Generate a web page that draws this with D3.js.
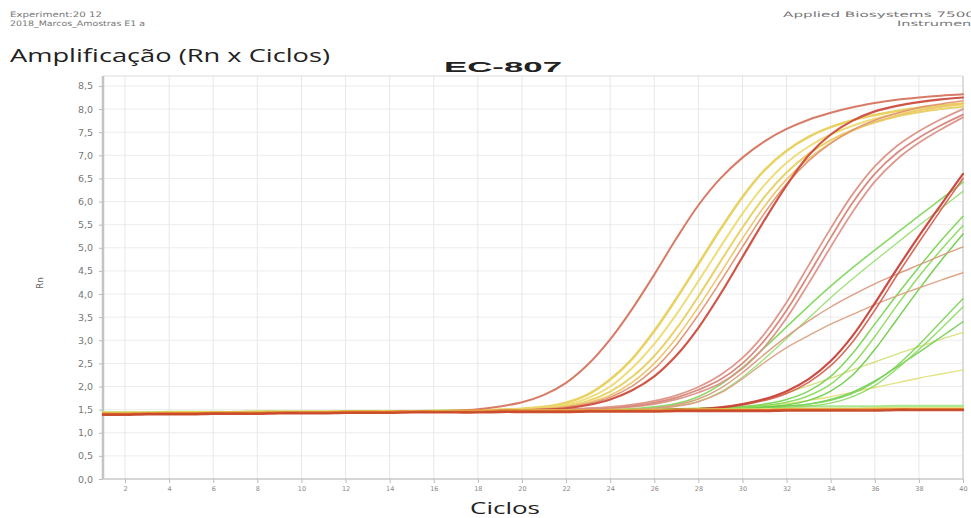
<!DOCTYPE html>
<html>
<head>
<meta charset="utf-8">
<script src="https://cdn.jsdelivr.net/npm/d3@7"></script>
<style>
  html, body { margin: 0; padding: 0; background: #ffffff; }
  svg { display: block; }
</style>
</head>
<body>
<svg id="chart" width="971" height="518"></svg>
<script>
// Amplification plot data: normalized reporter (Rn) per cycle, cycles 1..40
const cycles = [1,2,3,4,5,6,7,8,9,10,11,12,13,14,15,16,17,18,19,20,21,22,23,24,25,26,27,28,29,30,31,32,33,34,35,36,37,38,39,40];
const yTicks = [0,0.5,1,1.5,2,2.5,3,3.5,4,4.5,5,5.5,6,6.5,7,7.5,8,8.5];
const xTicks = [2,4,6,8,10,12,14,16,18,20,22,24,26,28,30,32,34,36,38,40];

// wells that never amplify (baseline)
const flatRed    = [1.39,1.39,1.40,1.40,1.40,1.41,1.41,1.41,1.42,1.42,1.42,1.43,1.43,1.43,1.44,1.44,1.44,1.44,1.45,1.45,1.45,1.45,1.46,1.46,1.46,1.46,1.47,1.47,1.47,1.47,1.47,1.48,1.48,1.48,1.48,1.48,1.49,1.49,1.49,1.49];
const flatOrange = [1.41,1.41,1.42,1.42,1.42,1.43,1.43,1.43,1.44,1.44,1.44,1.45,1.45,1.45,1.46,1.46,1.46,1.46,1.47,1.47,1.47,1.47,1.48,1.48,1.48,1.48,1.49,1.49,1.49,1.49,1.49,1.50,1.50,1.50,1.50,1.50,1.51,1.51,1.51,1.51];
const flatYellow = [1.44,1.44,1.44,1.45,1.45,1.45,1.45,1.46,1.46,1.46,1.46,1.47,1.47,1.47,1.47,1.48,1.48,1.48,1.48,1.49,1.49,1.49,1.49,1.50,1.50,1.50,1.50,1.51,1.51,1.51,1.51,1.52,1.52,1.52,1.52,1.53,1.53,1.53,1.53,1.53];
const flatGreen  = [1.44,1.44,1.44,1.45,1.45,1.45,1.45,1.46,1.46,1.46,1.46,1.47,1.47,1.47,1.47,1.48,1.48,1.48,1.48,1.49,1.49,1.49,1.49,1.50,1.50,1.50,1.51,1.52,1.53,1.54,1.55,1.56,1.57,1.57,1.57,1.57,1.58,1.58,1.58,1.58];

// earliest sample
const wellA  = [1.41,1.41,1.42,1.42,1.42,1.43,1.43,1.43,1.44,1.44,1.44,1.45,1.45,1.45,1.46,1.47,1.48,1.51,1.57,1.66,1.82,2.08,2.48,3.02,3.68,4.42,5.20,5.92,6.50,6.95,7.30,7.57,7.77,7.92,8.04,8.13,8.20,8.25,8.29,8.32];

// second group (yellow / orange / red)
const wellB1 = [1.41,1.41,1.42,1.42,1.42,1.43,1.43,1.43,1.44,1.44,1.44,1.45,1.45,1.45,1.46,1.46,1.47,1.48,1.50,1.52,1.56,1.65,1.83,2.15,2.60,3.20,3.90,4.65,5.40,6.10,6.68,7.10,7.40,7.61,7.76,7.87,7.96,8.03,8.08,8.12];
const wellB2 = [1.41,1.41,1.42,1.42,1.42,1.43,1.43,1.43,1.44,1.44,1.44,1.45,1.45,1.45,1.46,1.46,1.47,1.48,1.49,1.51,1.54,1.61,1.75,2.00,2.40,2.92,3.56,4.28,5.02,5.74,6.36,6.84,7.19,7.45,7.64,7.79,7.90,7.98,8.05,8.10];
const wellB3 = [1.41,1.41,1.42,1.42,1.42,1.43,1.43,1.43,1.44,1.44,1.44,1.45,1.45,1.45,1.46,1.46,1.47,1.47,1.49,1.50,1.53,1.58,1.69,1.89,2.21,2.66,3.25,3.95,4.70,5.44,6.10,6.63,7.03,7.33,7.55,7.71,7.84,7.93,8.00,8.05];
const wellB4 = [1.41,1.41,1.42,1.42,1.42,1.43,1.43,1.43,1.44,1.44,1.44,1.45,1.45,1.45,1.46,1.46,1.47,1.47,1.48,1.50,1.52,1.56,1.65,1.81,2.09,2.50,3.05,3.72,4.45,5.20,5.90,6.48,6.93,7.27,7.53,7.72,7.86,7.97,8.05,8.12];
const wellB5 = [1.41,1.41,1.42,1.42,1.42,1.43,1.43,1.43,1.44,1.44,1.44,1.45,1.45,1.45,1.46,1.46,1.47,1.47,1.48,1.49,1.51,1.55,1.63,1.77,2.01,2.38,2.90,3.55,4.27,5.02,5.75,6.38,6.88,7.26,7.55,7.76,7.91,8.03,8.11,8.18];
const wellB6 = [1.41,1.41,1.42,1.42,1.42,1.43,1.43,1.43,1.44,1.44,1.44,1.45,1.45,1.45,1.46,1.46,1.47,1.47,1.48,1.49,1.50,1.53,1.60,1.72,1.92,2.22,2.67,3.27,4.00,4.80,5.60,6.35,7.00,7.45,7.75,7.95,8.07,8.15,8.21,8.25];

// third group (pink band)
const wellC1 = [1.41,1.41,1.42,1.42,1.42,1.43,1.43,1.43,1.44,1.44,1.44,1.45,1.45,1.45,1.46,1.46,1.46,1.47,1.47,1.48,1.49,1.51,1.53,1.56,1.61,1.69,1.81,1.99,2.25,2.62,3.14,3.82,4.62,5.42,6.16,6.76,7.20,7.52,7.78,8.00];
const wellC2 = [1.41,1.41,1.42,1.42,1.42,1.43,1.43,1.43,1.44,1.44,1.44,1.45,1.45,1.45,1.46,1.46,1.46,1.47,1.47,1.47,1.48,1.50,1.52,1.54,1.58,1.65,1.76,1.93,2.15,2.50,3.00,3.65,4.42,5.22,5.98,6.60,7.05,7.38,7.65,7.88];
const wellC3 = [1.41,1.41,1.42,1.42,1.42,1.43,1.43,1.43,1.44,1.44,1.44,1.45,1.45,1.45,1.46,1.46,1.46,1.47,1.47,1.47,1.48,1.49,1.51,1.53,1.56,1.62,1.72,1.87,2.07,2.39,2.86,3.48,4.23,5.02,5.78,6.43,6.91,7.27,7.56,7.82];

// slow, nearly linear rises (thin salmon)
const wellF1 = [1.41,1.41,1.42,1.42,1.42,1.43,1.43,1.43,1.44,1.44,1.44,1.45,1.45,1.45,1.46,1.46,1.46,1.47,1.47,1.47,1.48,1.48,1.49,1.49,1.50,1.53,1.60,1.73,1.96,2.30,2.70,3.08,3.42,3.72,3.98,4.22,4.43,4.63,4.83,5.02];
const wellF2 = [1.41,1.41,1.42,1.42,1.42,1.43,1.43,1.43,1.44,1.44,1.44,1.45,1.45,1.45,1.46,1.46,1.46,1.47,1.47,1.47,1.48,1.48,1.49,1.49,1.50,1.52,1.57,1.67,1.86,2.17,2.52,2.84,3.10,3.35,3.56,3.77,3.96,4.13,4.30,4.46];

// late red wells
const wellD1 = [1.41,1.41,1.42,1.42,1.42,1.43,1.43,1.43,1.44,1.44,1.44,1.45,1.45,1.45,1.46,1.46,1.46,1.47,1.47,1.47,1.48,1.48,1.48,1.48,1.49,1.49,1.50,1.51,1.55,1.62,1.73,1.90,2.16,2.55,3.10,3.80,4.54,5.25,5.93,6.60];
const wellD2 = [1.41,1.41,1.42,1.42,1.42,1.43,1.43,1.43,1.44,1.44,1.44,1.45,1.45,1.45,1.46,1.46,1.46,1.47,1.47,1.47,1.48,1.48,1.48,1.48,1.49,1.49,1.50,1.51,1.54,1.60,1.70,1.85,2.09,2.45,2.97,3.65,4.40,5.12,5.82,6.50];

// green wells
const wellE1  = [1.42,1.42,1.43,1.43,1.43,1.44,1.44,1.44,1.45,1.45,1.45,1.46,1.46,1.46,1.47,1.47,1.47,1.48,1.48,1.48,1.49,1.49,1.49,1.50,1.52,1.56,1.63,1.78,2.04,2.41,2.84,3.29,3.74,4.17,4.57,4.95,5.32,5.69,6.05,6.42];
const wellE1b = [1.42,1.42,1.43,1.43,1.43,1.44,1.44,1.44,1.45,1.45,1.45,1.46,1.46,1.46,1.47,1.47,1.47,1.48,1.48,1.48,1.49,1.49,1.49,1.50,1.51,1.53,1.58,1.68,1.88,2.20,2.60,3.04,3.48,3.92,4.33,4.72,5.10,5.48,5.85,6.22];
const wellE2  = [1.42,1.42,1.43,1.43,1.43,1.44,1.44,1.44,1.45,1.45,1.45,1.46,1.46,1.46,1.47,1.47,1.47,1.48,1.48,1.48,1.49,1.49,1.49,1.50,1.50,1.51,1.51,1.52,1.54,1.57,1.62,1.72,1.90,2.22,2.72,3.35,3.98,4.58,5.15,5.68];
const wellE3  = [1.42,1.42,1.43,1.43,1.43,1.44,1.44,1.44,1.45,1.45,1.45,1.46,1.46,1.46,1.47,1.47,1.47,1.48,1.48,1.48,1.49,1.49,1.49,1.50,1.50,1.51,1.51,1.52,1.53,1.55,1.59,1.66,1.80,2.05,2.48,3.08,3.75,4.38,4.95,5.48];
const wellE4  = [1.42,1.42,1.43,1.43,1.43,1.44,1.44,1.44,1.45,1.45,1.45,1.46,1.46,1.46,1.47,1.47,1.47,1.48,1.48,1.48,1.49,1.49,1.49,1.50,1.50,1.51,1.51,1.52,1.53,1.54,1.56,1.60,1.70,1.90,2.25,2.80,3.45,4.10,4.72,5.30];
const wellE5  = [1.42,1.42,1.43,1.43,1.43,1.44,1.44,1.44,1.45,1.45,1.45,1.46,1.46,1.46,1.47,1.47,1.47,1.48,1.48,1.48,1.49,1.49,1.49,1.50,1.50,1.51,1.51,1.52,1.53,1.54,1.55,1.58,1.62,1.70,1.85,2.10,2.45,2.90,3.40,3.90];
const wellE6  = [1.42,1.42,1.43,1.43,1.43,1.44,1.44,1.44,1.45,1.45,1.45,1.46,1.46,1.46,1.47,1.47,1.47,1.48,1.48,1.48,1.49,1.49,1.49,1.50,1.50,1.51,1.51,1.52,1.53,1.54,1.55,1.56,1.58,1.64,1.78,2.02,2.38,2.80,3.25,3.72];
const wellE7  = [1.42,1.42,1.43,1.43,1.43,1.44,1.44,1.44,1.45,1.45,1.45,1.46,1.46,1.46,1.47,1.47,1.47,1.48,1.48,1.48,1.49,1.49,1.49,1.50,1.50,1.51,1.51,1.52,1.53,1.54,1.55,1.57,1.62,1.72,1.88,2.12,2.42,2.74,3.07,3.40];
const wellY1  = [1.42,1.42,1.43,1.43,1.43,1.44,1.44,1.44,1.45,1.45,1.45,1.46,1.46,1.46,1.47,1.47,1.47,1.48,1.48,1.48,1.49,1.49,1.49,1.50,1.50,1.51,1.52,1.53,1.56,1.62,1.72,1.86,2.02,2.18,2.36,2.53,2.70,2.86,3.02,3.17];
const wellY2  = [1.42,1.42,1.43,1.43,1.43,1.44,1.44,1.44,1.45,1.45,1.45,1.46,1.46,1.46,1.47,1.47,1.47,1.48,1.48,1.48,1.49,1.49,1.49,1.50,1.50,1.51,1.51,1.52,1.53,1.55,1.58,1.63,1.70,1.78,1.88,1.98,2.08,2.18,2.27,2.36];

// drawing order: greens below, reds and baselines on top
const wells = [
  { values: flatGreen, color: "#a8e68c", width: 2.2 },
  { values: wellY2,  color: "#e4e07c", width: 1.4 },
  { values: wellY1,  color: "#d3e27a", width: 1.4 },
  { values: wellE7,  color: "#74cf55", width: 1.4 },
  { values: wellE6,  color: "#90da68", width: 1.4 },
  { values: wellE5,  color: "#7dd45a", width: 1.4 },
  { values: wellE4,  color: "#70ce4b", width: 1.5 },
  { values: wellE3,  color: "#8cdb5e", width: 1.5 },
  { values: wellE2,  color: "#7ad452", width: 1.5 },
  { values: wellE1b, color: "#9ade72", width: 1.3 },
  { values: wellE1,  color: "#82d75e", width: 1.6 },
  { values: wellF2,  color: "#dca183", width: 1.4 },
  { values: wellF1,  color: "#d99a7c", width: 1.4 },
  { values: wellC3,  color: "#dc9488", width: 1.8 },
  { values: wellC2,  color: "#d6857a", width: 1.8 },
  { values: wellC1,  color: "#dc9284", width: 1.8 },
  { values: wellB1,  color: "#e7d05c", width: 2.6 },
  { values: wellB2,  color: "#eddb72", width: 2.0 },
  { values: wellB3,  color: "#e8d062", width: 2.0 },
  { values: wellB4,  color: "#ebc468", width: 1.6 },
  { values: wellB5,  color: "#e09474", width: 1.6 },
  { values: wellB6,  color: "#cc4c3c", width: 2.2 },
  { values: wellA,   color: "#d6745e", width: 2.0 },
  { values: wellD2,  color: "#d56450", width: 1.6 },
  { values: wellD1,  color: "#c9413a", width: 2.2 },
  { values: flatYellow, color: "#e6cf52", width: 1.8 },
  { values: flatOrange, color: "#e07a2e", width: 2.2 },
  { values: flatRed,    color: "#c8482a", width: 2.4 }
];

const svg = d3.select("#chart");
const W = 971, H = 518;
svg.append("rect").attr("width", W).attr("height", H).attr("fill", "#ffffff");

const plot = { left: 103, right: 963, top: 76, bottom: 479 };
const x = d3.scaleLinear().domain([1, 40]).range([plot.left, plot.right]);
const y = d3.scaleLinear().domain([0, 8.715]).range([plot.bottom, plot.top]);

const ptBR = d3.formatLocale({ decimal: ",", thousands: ".", grouping: [3], currency: ["R$", ""] });
const fmt = ptBR.format(".1f");

// header texts
const header = svg.append("g").attr("font-family", "'DejaVu Sans', Verdana, sans-serif").attr("fill", "#777");
header.append("text").attr("x", 10).attr("y", 17).attr("font-size", 7.5).attr("textLength", 92).attr("lengthAdjust", "spacingAndGlyphs").text("Experiment:20 12");
header.append("text").attr("x", 10).attr("y", 26).attr("font-size", 7.5).attr("textLength", 135).attr("lengthAdjust", "spacingAndGlyphs").text("2018_Marcos_Amostras E1 a");
header.append("text").attr("x", 783).attr("y", 17).attr("font-size", 7.5).attr("textLength", 192).attr("lengthAdjust", "spacingAndGlyphs").text("Applied Biosystems 7500");
header.append("text").attr("x", 897).attr("y", 26).attr("font-size", 7.5).attr("textLength", 80).attr("lengthAdjust", "spacingAndGlyphs").text("Instrument");

svg.append("text")
  .attr("x", 10).attr("y", 62)
  .attr("font-family", "'Open Sans', 'Noto Sans', sans-serif")
  .attr("font-size", 19).attr("fill", "#222")
  .attr("textLength", 320).attr("lengthAdjust", "spacingAndGlyphs")
  .text("Amplificação (Rn x Ciclos)");

svg.append("text")
  .attr("x", 503).attr("y", 72).attr("text-anchor", "middle")
  .attr("font-family", "'Liberation Sans', Arial, sans-serif")
  .attr("font-size", 15).attr("font-weight", "bold").attr("fill", "#222")
  .attr("textLength", 118).attr("lengthAdjust", "spacingAndGlyphs")
  .text("EC-807");

// grid
const grid = svg.append("g");
grid.selectAll("line.h").data(yTicks.filter(d => d > 0)).join("line")
  .attr("x1", plot.left).attr("x2", plot.right)
  .attr("y1", d => y(d)).attr("y2", d => y(d))
  .attr("stroke", "#ececec").attr("stroke-width", 1);
grid.selectAll("line.v").data(xTicks).join("line")
  .attr("x1", d => x(d)).attr("x2", d => x(d))
  .attr("y1", plot.top).attr("y2", plot.bottom)
  .attr("stroke", "#e8e8e8").attr("stroke-width", 1);

// frame
svg.append("line").attr("x1", plot.left).attr("x2", plot.right).attr("y1", plot.top).attr("y2", plot.top).attr("stroke", "#dcdcdc");
svg.append("line").attr("x1", plot.right).attr("x2", plot.right).attr("y1", plot.top).attr("y2", plot.bottom).attr("stroke", "#d4d4d4").attr("stroke-width", 1.5);

// axes
const yAxis = d3.axisLeft(y).tickValues(yTicks).tickFormat(fmt).tickSize(4).tickPadding(6);
const gy = svg.append("g").attr("transform", `translate(${plot.left},0)`).call(yAxis);
gy.select(".domain").attr("stroke", "#c4c4c4").attr("stroke-width", 2.5).attr("d", `M0,${plot.top}V${plot.bottom}`);
gy.selectAll(".tick line").attr("stroke", "#bbb");
gy.selectAll(".tick text").attr("fill", "#777").attr("font-size", 9.5)
  .attr("font-family", "'DejaVu Sans', Verdana, sans-serif");

const xAxis = d3.axisBottom(x).tickValues(xTicks).tickFormat(d3.format("d")).tickSize(4).tickPadding(3);
const gx = svg.append("g").attr("transform", `translate(0,${plot.bottom})`).call(xAxis);
gx.select(".domain").attr("stroke", "#c8c8c8").attr("stroke-width", 1.5).attr("d", `M${plot.left - 1},0H${plot.right}`);
gx.selectAll(".tick line").attr("stroke", "#bbb");
gx.selectAll(".tick text").attr("fill", "#888").attr("font-size", 6.5)
  .attr("font-family", "'DejaVu Sans', Verdana, sans-serif");

// axis titles
svg.append("text")
  .attr("transform", `translate(43,283) rotate(-90)`).attr("text-anchor", "middle")
  .attr("font-family", "'DejaVu Sans', Verdana, sans-serif").attr("font-size", 9).attr("fill", "#666")
  .text("Rn");
svg.append("text")
  .attr("x", 505).attr("y", 514).attr("text-anchor", "middle")
  .attr("font-family", "'Open Sans', 'Noto Sans', sans-serif").attr("font-size", 17).attr("fill", "#222")
  .attr("textLength", 70).attr("lengthAdjust", "spacingAndGlyphs")
  .text("Ciclos");

// curves
const line = d3.line()
  .x((d, i) => x(cycles[i]))
  .y(d => y(d))
  .curve(d3.curveCatmullRom.alpha(0.5));

const gc = svg.append("g").attr("fill", "none").attr("stroke-linejoin", "round").attr("stroke-linecap", "round");
gc.selectAll("path").data(wells).join("path")
  .attr("d", d => line(d.values))
  .attr("stroke", d => d.color)
  .attr("stroke-width", d => d.width)
  .attr("stroke-opacity", 0.95);
</script>
</body>
</html>
